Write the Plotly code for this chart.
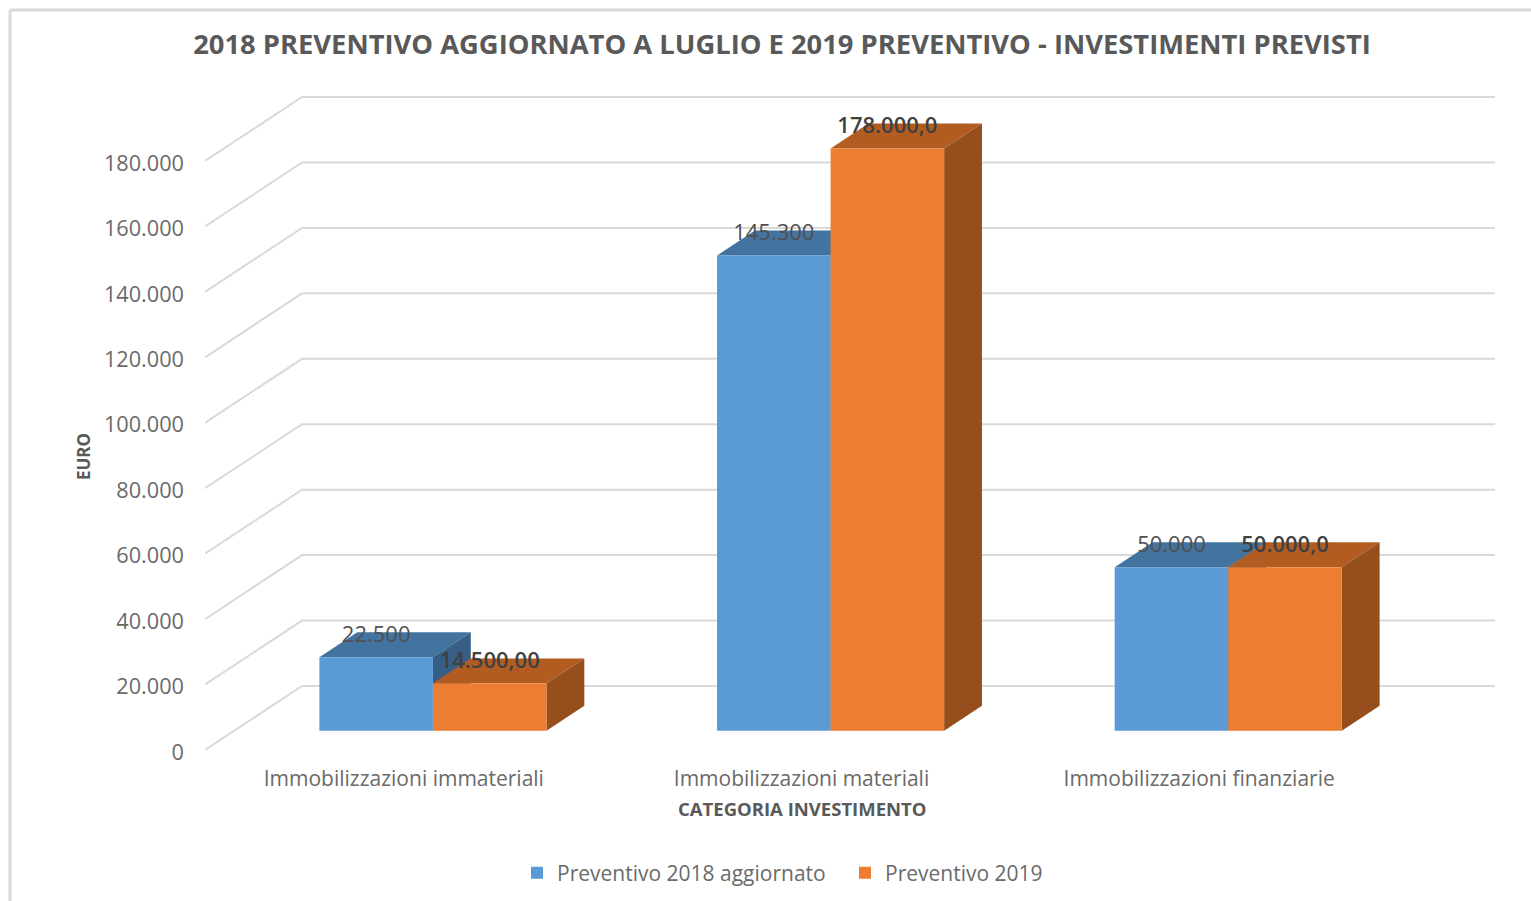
import plotly.graph_objects as go

# ---------- data ----------
categories = ["Immobilizzazioni immateriali", "Immobilizzazioni materiali", "Immobilizzazioni finanziarie"]
series_2018_name = "Preventivo 2018 aggiornato"
series_2019_name = "Preventivo 2019"
values_2018 = [22500, 145300, 50000]
values_2019 = [14500, 178000, 50000]
labels_2018 = ["22.500", "145.300", "50.000"]
labels_2019 = ["14.500,00", "178.000,0", "50.000,0"]
y_ticks = [0, 20000, 40000, 60000, 80000, 100000, 120000, 140000, 160000, 180000]
y_tick_labels = ["0", "20.000", "40.000", "60.000", "80.000", "100.000", "120.000", "140.000", "160.000", "180.000"]

# ---------- oblique projection, expressed in axis units ----------
DEPTH_X = 97 / 397.5        # full floor depth, category units
DEPTH_Y = 64 / 3.272 * 1000 # full floor depth, value units
BAR_NEAR, BAR_FAR = 0.30, 0.69
BAR_W = 113.5 / 397.5
LABEL_LIFT = 20.5 / 3.272 * 1000

GRID = "#d9d9d9"
TEXT = "#6a6a6a"
FONT = "Open Sans"

# plot-area helpers (pixel frame of the reference -> paper fractions)
PL, PR, PT, PB = 205, 1495, 80, 750


def xp(px):
    return (px - PL) / (PR - PL)


def yp(py):
    return (PB - py) / (PB - PT)


def proj(x, y, depth):
    return x + depth * DEPTH_X, y + depth * DEPTH_Y


# ---------- back wall and side wall gridlines ----------
gx, gy = [], []
right = 2.5
for t in y_ticks:
    bx, by = proj(-0.5, t, 1)
    ex, _ = proj(right, t, 1)
    gx += [-0.5, bx, ex, None]
    gy += [t, by, by, None]

fig = go.Figure()
fig.add_trace(go.Scatter(x=gx, y=gy, mode="lines", line=dict(color=GRID, width=2),
                         showlegend=False, hoverinfo="skip", zorder=0))


def add_series(name, values, offset, front, top, side, z):
    xs = [i + offset for i in range(len(values))]
    for x, v in zip(xs, values):
        l, r = x - BAR_W / 2, x + BAR_W / 2
        tx, ty = [], []
        for px_, d in [(l, BAR_NEAR), (r, BAR_NEAR), (r, BAR_FAR), (l, BAR_FAR), (l, BAR_NEAR)]:
            a, b = proj(px_, v, d)
            tx.append(a); ty.append(b)
        fig.add_trace(go.Scatter(x=tx, y=ty, mode="lines", fill="toself", fillcolor=top,
                                 line=dict(width=0), showlegend=False, hoverinfo="skip", zorder=z))
        sx, sy = [], []
        for h, d in [(v, BAR_NEAR), (v, BAR_FAR), (0, BAR_FAR), (0, BAR_NEAR), (v, BAR_NEAR)]:
            a, b = proj(r, h, d)
            sx.append(a); sy.append(b)
        fig.add_trace(go.Scatter(x=sx, y=sy, mode="lines", fill="toself", fillcolor=side,
                                 line=dict(width=0), showlegend=False, hoverinfo="skip", zorder=z))
    fx = [proj(x, 0, BAR_NEAR)[0] for x in xs]
    base = proj(0, 0, BAR_NEAR)[1]
    fig.add_trace(go.Bar(x=fx, y=values, base=base, width=BAR_W, name=name,
                         marker=dict(color=front, line=dict(width=0)), zorder=z + 1))
    return fx


fx18 = add_series(series_2018_name, values_2018, -BAR_W / 2, "#5b9bd5", "#43739f", "#375f85", 1)
fx19 = add_series(series_2019_name, values_2019, BAR_W / 2, "#ed7d31", "#b35c22", "#964f1c", 3)

base = proj(0, 0, BAR_NEAR)[1]
fig.add_trace(go.Scatter(x=fx18, y=[v + base + LABEL_LIFT for v in values_2018], mode="text",
                         text=labels_2018, textposition="middle center",
                         textfont=dict(family=FONT, size=22, color="#505050"),
                         showlegend=False, hoverinfo="skip", zorder=5))
fig.add_trace(go.Scatter(x=fx19, y=[v + base + LABEL_LIFT for v in values_2019], mode="text",
                         text=labels_2019, textposition="middle center",
                         textfont=dict(family=FONT, size=22, color="#404040", weight=600),
                         showlegend=False, hoverinfo="skip", zorder=5))

fig.update_layout(
    width=1531, height=901, autosize=False,
    margin=dict(l=PL, r=1531 - PR, t=PT, b=901 - PB, pad=0, autoexpand=False),
    paper_bgcolor="white", plot_bgcolor="white",
    barmode="overlay",
    font=dict(family=FONT, color=TEXT),
    title=dict(text="<b>2018 PREVENTIVO AGGIORNATO A LUGLIO E 2019 PREVENTIVO - INVESTIMENTI PREVISTI</b>",
               x=782 / 1531, xanchor="center", xref="container", y=1 - 44 / 901, yref="container", yanchor="middle",
               font=dict(family=FONT, size=27.35, color="#595959")),
    xaxis=dict(range=[-0.5, right + DEPTH_X], tickmode="array", tickvals=[0, 1, 2], ticktext=categories,
               showgrid=False, zeroline=False, showline=False, ticks="", ticklabelstandoff=14,
               tickfont=dict(family=FONT, size=21, color=TEXT)),
    yaxis=dict(range=[0, (PB - PT) / 3.272 * 1000], tickmode="array", tickvals=y_ticks, ticktext=y_tick_labels,
               showgrid=False, zeroline=False, showline=False, ticks="", ticklabelstandoff=20, ticklabelshift=2,
               tickfont=dict(family=FONT, size=21.7, color=TEXT)),
    annotations=[
        dict(text="<b>CATEGORIA INVESTIMENTO</b>", xref="paper", yref="paper", x=xp(802), y=yp(808),
             xanchor="center", yanchor="middle", showarrow=False,
             font=dict(family=FONT, size=18.5, color="#595959")),
        dict(text="<b>EURO</b>", xref="paper", yref="paper", x=xp(83), y=yp(457), textangle=-90,
             xanchor="center", yanchor="middle", showarrow=False,
             font=dict(family=FONT, size=17, color="#595959")),
    ],
    legend=dict(orientation="h", x=xp(517), xref="paper", y=yp(873), yref="paper",
                xanchor="left", yanchor="middle", font=dict(family=FONT, size=21, color=TEXT),
                bgcolor="rgba(0,0,0,0)", itemwidth=30, entrywidth=283, entrywidthmode="pixels"),
    shapes=[
        dict(type="line", xref="paper", yref="paper", x0=xp(10), x1=xp(1531),
             y0=yp(10), y1=yp(10), line=dict(color=GRID, width=3)),
        dict(type="line", xref="paper", yref="paper", x0=xp(10), x1=xp(10),
             y0=yp(10), y1=yp(901), line=dict(color=GRID, width=3)),
    ],
)

fig.write_html("out.html", config={"displayModeBar": False},
               post_script="document.body.style.margin='0';")
